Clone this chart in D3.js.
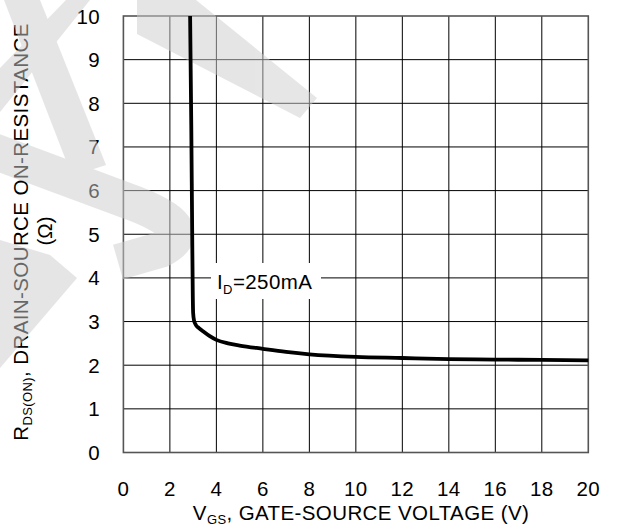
<!DOCTYPE html>
<html>
<head>
<meta charset="utf-8">
<script src="https://cdn.jsdelivr.net/npm/d3@7"></script>
<style>
  html, body { margin: 0; padding: 0; background: #fff; }
  svg { display: block; }
  text { font-family: "Liberation Sans", Arial, sans-serif; fill: #000; }
</style>
</head>
<body>
<svg id="chart" width="617" height="531"></svg>
<script>
// Gate-source voltage (V) and on-resistance (ohm) at I_D = 250 mA
const vgs = [2.87, 2.92, 2.96, 2.985, 3.0, 3.04, 3.12, 3.25, 3.44, 3.7, 4, 4.5, 5, 6, 7, 8, 10, 12, 14, 16, 18, 20];
const rds = [10, 7.5, 5, 3.6, 3.2, 3.02, 2.92, 2.85, 2.77, 2.67, 2.58, 2.5, 2.45, 2.375, 2.305, 2.25, 2.19, 2.165, 2.14, 2.13, 2.12, 2.11];

const xTicks = [0, 2, 4, 6, 8, 10, 12, 14, 16, 18, 20];
const yTicks = [0, 1, 2, 3, 4, 5, 6, 7, 8, 9, 10];
const curveLabel = { main: "I", sub: "D", rest: "=250mA" };

const svg = d3.select("#chart");
const x = d3.scaleLinear().domain([0, 20]).range([123.4, 588.3]);
const y = d3.scaleLinear().domain([0, 10]).range([452.5, 16]);

const fs = 20.5, ls = 0.4, subFs = 13;

// grid
const grid = svg.append("g").attr("stroke", "#000").attr("stroke-width", 1).attr("fill", "none");
grid.selectAll("line.v").data(xTicks.slice(1, -1)).join("line")
  .attr("x1", d => x(d)).attr("x2", d => x(d)).attr("y1", y(0)).attr("y2", y(10));
grid.selectAll("line.h").data(yTicks.slice(1, -1)).join("line")
  .attr("x1", x(0)).attr("x2", x(20)).attr("y1", d => y(d)).attr("y2", d => y(d));

// frame
svg.append("rect")
  .attr("x", x(0)).attr("y", y(10))
  .attr("width", x(20) - x(0)).attr("height", y(0) - y(10))
  .attr("fill", "none").attr("stroke", "#555").attr("stroke-width", 1.6);

// label box knocks out the grid behind the annotation
svg.append("rect").attr("x", 211).attr("y", 263).attr("width", 110).attr("height", 36).attr("fill", "#fff");

// annotation
const lab = svg.append("text").attr("x", 217).attr("y", 289)
  .style("font-size", fs + "px").style("letter-spacing", ls + "px");
lab.append("tspan").text(curveLabel.main);
lab.append("tspan").text(curveLabel.sub).style("font-size", subFs + "px").attr("dy", 5);
lab.append("tspan").text(curveLabel.rest).attr("dy", -5);

// x tick labels
svg.append("g").selectAll("text").data(xTicks).join("text")
  .attr("x", d => x(d)).attr("y", 496).attr("text-anchor", "middle")
  .style("font-size", fs + "px").style("letter-spacing", ls + "px")
  .text(d => d);

// y tick labels
svg.append("g").selectAll("text").data(yTicks).join("text")
  .attr("x", 100).attr("y", d => y(d) + 7.5).attr("text-anchor", "end")
  .style("font-size", fs + "px").style("letter-spacing", ls + "px")
  .text(d => d);

// x axis title
const xt = svg.append("text").attr("x", 361).attr("y", 520).attr("text-anchor", "middle")
  .style("font-size", fs + "px").style("letter-spacing", ls + "px");
xt.append("tspan").text("V");
xt.append("tspan").text("GS").style("font-size", subFs + "px").attr("dy", 4);
xt.append("tspan").text(", GATE-SOURCE VOLTAGE (V)").attr("dy", -4);

// y axis title (two lines)
const yt = svg.append("text").attr("transform", "translate(28,232) rotate(-90)")
  .attr("text-anchor", "middle")
  .style("font-size", fs + "px").style("letter-spacing", ls + "px");
yt.append("tspan").text("R");
yt.append("tspan").text("DS(ON)").style("font-size", subFs + "px").attr("dy", 4);
yt.append("tspan").text(", DRAIN-SOURCE ON-RESISTANCE").attr("dy", -4);

svg.append("text").attr("transform", "translate(52,231) rotate(-90)")
  .attr("text-anchor", "middle")
  .style("font-size", fs + "px")
  .text("(Ω)");

// translucent watermark strokes on the left, over grid and text
const wmFill = "#cdcdcd";
const wm = svg.append("g").attr("fill", wmFill).attr("opacity", 0.5);
const polys = [
  [[66, 0], [90, 0], [0, 112], [0, 68]],
  [[4, 0], [40, 0], [106, 165], [72, 176]],
  [[137, 0], [196, 0], [317, 98], [300, 118], [137, 34]],
  [[0, 240], [50, 255], [77, 278], [0, 368]]
];
wm.selectAll("polygon").data(polys).join("polygon")
  .attr("points", d => d.map(p => p.join(",")).join(" "));
wm.append("path")
  .attr("d", "M-20,146 L125,200 Q205,228 160,250 L118,262")
  .attr("fill", "none").attr("stroke", wmFill).attr("stroke-width", 36);

// curve
const line = d3.line().x((d, i) => x(vgs[i])).y(d => y(d)).curve(d3.curveMonotoneX);
svg.append("path").datum(rds).attr("d", line)
  .attr("fill", "none").attr("stroke", "#000").attr("stroke-width", 3.8)
  .attr("stroke-linejoin", "round");
</script>
</body>
</html>
